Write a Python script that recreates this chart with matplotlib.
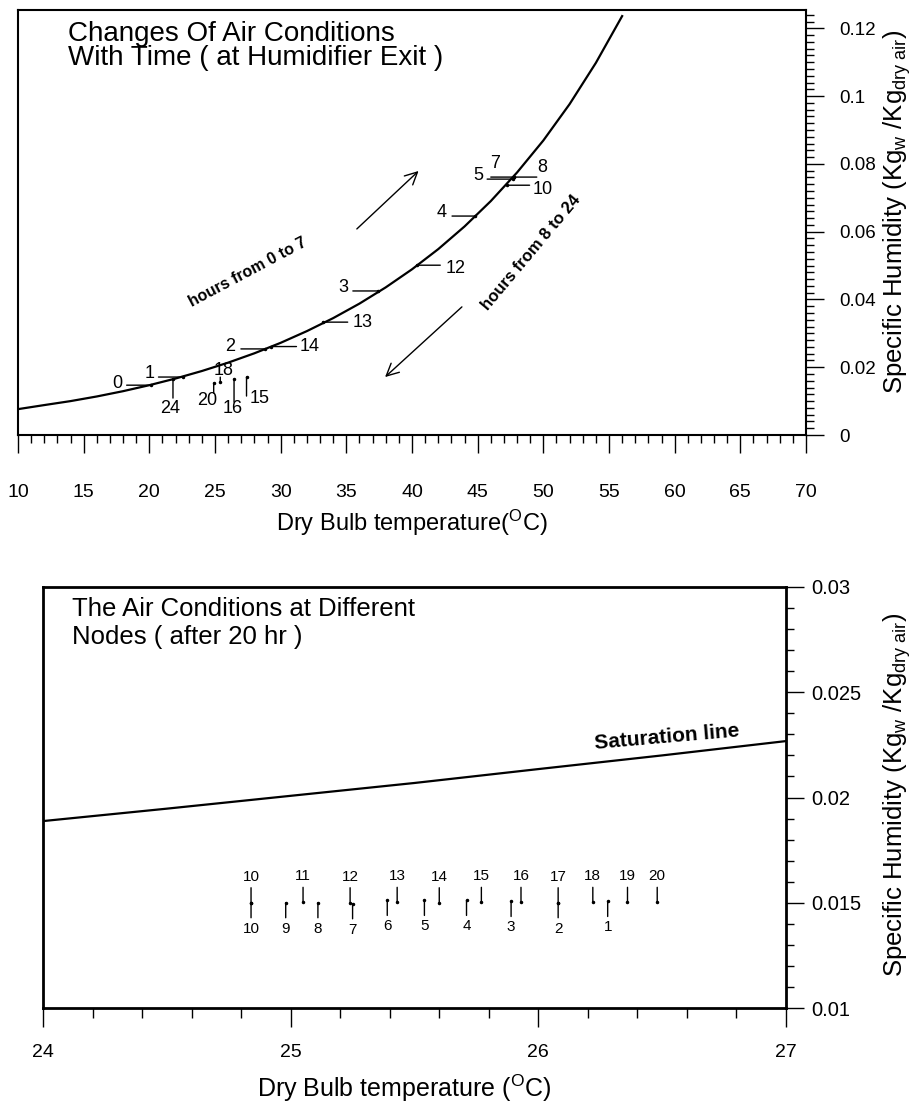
import matplotlib
matplotlib.use('Agg')
import matplotlib.pyplot as plt
from matplotlib.ticker import MultipleLocator, FormatStrFormatter

plt.rcParams['font.family'] = ['Liberation Sans', 'DejaVu Sans']
plt.rcParams['mathtext.fontset'] = 'custom'
plt.rcParams['mathtext.rm'] = 'Liberation Sans'
plt.rcParams['mathtext.it'] = 'Liberation Sans:italic'

# upper chart: saturation curve
sat_temp = [10, 12, 14, 16, 18, 20, 22, 24, 26, 28, 30, 32, 34, 36, 38, 40,
            42, 44, 46, 48, 50, 52, 54, 56]
sat_hum = [0.00763, 0.00883, 0.01000, 0.01137, 0.01293, 0.01470, 0.01667,
           0.01888, 0.02135, 0.02411, 0.02720, 0.03066, 0.03449, 0.03877,
           0.04356, 0.04889, 0.05485, 0.06153, 0.06902, 0.07746, 0.08690,
           0.09763, 0.10980, 0.12360]

# air state at humidifier exit for each hour
hour_labels = ['0', '1', '2', '3', '4', '5', '7', '8', '10', '12', '13',
               '14', '15', '16', '18', '20', '24']
hour_temp = [20.1, 22.6, 28.8, 37.4, 44.8, 47.7, 47.75, 47.75, 47.2, 40.4,
             33.2, 29.3, 27.4, 26.45, 25.4, 24.9, 21.8]
hour_hum = [0.0147, 0.0171, 0.0254, 0.0425, 0.0646, 0.0755, 0.0761, 0.0761,
            0.0737, 0.0501, 0.0333, 0.0261, 0.0171, 0.0165, 0.0156, 0.0153,
            0.0165]

# lower chart: saturation line and node states after 20 hr
sat2_temp = [24, 24.5, 25, 25.5, 26, 26.5, 27]
sat2_hum = [0.01888, 0.01947, 0.02008, 0.02069, 0.02135, 0.02200, 0.02268]

upper_nodes = ['10', '11', '12', '13', '14', '15', '16', '17', '18', '19', '20']
upper_temp = [24.84, 25.05, 25.24, 25.43, 25.60, 25.77, 25.93, 26.08, 26.22,
              26.36, 26.48]
upper_hum = [0.0150, 0.01502, 0.0150, 0.01502, 0.0150, 0.01502, 0.01502,
             0.0150, 0.01502, 0.01502, 0.01502]

lower_nodes = ['10', '9', '8', '7', '6', '5', '4', '3', '2', '1']
lower_temp = [24.84, 24.98, 25.11, 25.25, 25.39, 25.54, 25.71, 25.89, 26.08,
              26.28]
lower_hum = [0.0150, 0.0150, 0.0150, 0.01495, 0.01511, 0.01511, 0.01511,
             0.01506, 0.0150, 0.01506]

# label placement for the hour marks: (line dx, line dy, text dx, text dy) in pixels
hour_offsets = {
    '0': (-24, 0, -33, 2), '1': (-25, 0, -34, 4), '2': (-24, 0, -35, 2),
    '3': (-25, 0, -35, 3), '4': (-23, 0, -33, 4), '5': (-26, 0, -35, 4),
    '7': (-23, 0, -19, 14), '8': (23, 0, 28, 10), '10': (23, 0, 36, -4),
    '12': (23, 0, 38, -3), '13': (25, 0, 40, 0), '14': (25, 0, 38, 0),
    '15': (0, -19, 13, -21), '16': (0, -23, -1, -29), '18': (0, 5, 3, 12),
    '20': (0, -10, -6, -17), '24': (0, -19, -3, -29),
}

fig = plt.figure(figsize=(9.18, 11.11), dpi=100)
ax1 = fig.add_axes([18 / 918, 1 - 435 / 1111, 788 / 918, 425 / 1111])
ax2 = fig.add_axes([43 / 918, 1 - 1008 / 1111, 743 / 918, 421 / 1111])

# ---------- upper chart ----------
ax1.plot(sat_temp, sat_hum, color='black', lw=1.6)
ax1.plot(hour_temp, hour_hum, ls='none', marker='.', ms=3, color='black')
for lab, t, h in zip(hour_labels, hour_temp, hour_hum):
    lx, ly, tx, ty = hour_offsets[lab]
    ax1.annotate('', xy=(t, h), xytext=(lx, ly), textcoords='offset pixels',
                 arrowprops=dict(arrowstyle='-', lw=1, color='black',
                                 shrinkA=0, shrinkB=0))
    ax1.annotate(lab, xy=(t, h), xytext=(tx, ty), textcoords='offset pixels',
                 ha='center', va='center', fontsize=13)

ax1.annotate('', xy=(40.5, 0.0779), xytext=(35.8, 0.0608),
             arrowprops=dict(arrowstyle='->', lw=1, color='black',
                             mutation_scale=22, shrinkA=0, shrinkB=0))
ax1.annotate('', xy=(37.95, 0.0171), xytext=(43.8, 0.0378),
             arrowprops=dict(arrowstyle='->', lw=1, color='black',
                             mutation_scale=22, shrinkA=0, shrinkB=0))
ax1.text(27.5, 0.0481, 'hours from 0 to 7', rotation=28, fontsize=11.5,
         fontweight='bold', ha='center', va='center', rotation_mode='anchor')
ax1.text(49.07, 0.0537, 'hours from 8 to 24', rotation=50, fontsize=12,
         fontweight='bold', ha='center', va='center', rotation_mode='anchor')
ax1.text(0.0635, 0.975, 'Changes Of Air Conditions\nWith Time ( at Humidifier Exit )',
         transform=ax1.transAxes, fontsize=20, va='top', ha='left',
         linespacing=0.9)

ax1.set_xlim(10, 70)
ax1.set_ylim(0, 0.1254)
ax1.xaxis.set_major_locator(MultipleLocator(5))
ax1.xaxis.set_minor_locator(MultipleLocator(1))
ax1.yaxis.set_major_locator(MultipleLocator(0.02))
ax1.yaxis.set_minor_locator(MultipleLocator(0.002))
ax1.yaxis.set_major_formatter(FormatStrFormatter('%g'))
ax1.yaxis.tick_right()
ax1.tick_params(axis='x', which='major', direction='out', length=13, width=1,
                pad=22, labelsize=14)
ax1.tick_params(axis='x', which='minor', direction='out', length=6, width=1)
ax1.tick_params(axis='y', which='major', direction='out', length=13, width=1,
                pad=11, labelsize=13.5)
ax1.tick_params(axis='y', which='minor', direction='out', length=6, width=1)
for s in ax1.spines.values():
    s.set_linewidth(1.5)

fig.text(412 / 918, 1 - 523 / 1111, r'Dry Bulb temperature($^{\rm O}$C)',
         ha='center', va='center', fontsize=17)
fig.text(897 / 918, 1 - 212 / 1111,
         r'Specific Humidity (Kg$_{\rm w}$ /Kg$_{\rm dry\ air}$)',
         rotation=90, ha='center', va='center', fontsize=18.5)

# ---------- lower chart ----------
ax2.plot(sat2_temp, sat2_hum, color='black', lw=1.6)
ax2.text(26.52, 0.02285, 'Saturation line', rotation=5, fontsize=15,
         fontweight='bold', ha='center', va='center', rotation_mode='anchor')

ax2.plot(upper_temp, upper_hum, ls='none', marker='.', ms=3, color='black')
ax2.plot(lower_temp, lower_hum, ls='none', marker='.', ms=3, color='black')
for lab, t, h in zip(upper_nodes, upper_temp, upper_hum):
    ax2.annotate('', xy=(t, h), xytext=(0, 15), textcoords='offset pixels',
                 arrowprops=dict(arrowstyle='-', lw=1, color='black',
                                 shrinkA=0, shrinkB=0))
    ax2.annotate(lab, xy=(t, h), xytext=(0, 26), textcoords='offset pixels',
                 ha='center', va='center', fontsize=11)
for lab, t, h in zip(lower_nodes, lower_temp, lower_hum):
    ax2.annotate('', xy=(t, h), xytext=(0, -15), textcoords='offset pixels',
                 arrowprops=dict(arrowstyle='-', lw=1, color='black',
                                 shrinkA=0, shrinkB=0))
    ax2.annotate(lab, xy=(t, h), xytext=(0, -26), textcoords='offset pixels',
                 ha='center', va='center', fontsize=11)

ax2.text(0.039, 0.976, 'The Air Conditions at Different\nNodes ( after 20 hr )',
         transform=ax2.transAxes, fontsize=18.5, va='top', ha='left',
         linespacing=1.2)

ax2.set_xlim(24, 27)
ax2.set_ylim(0.01, 0.03)
ax2.xaxis.set_major_locator(MultipleLocator(1))
ax2.xaxis.set_minor_locator(MultipleLocator(0.2))
ax2.yaxis.set_major_locator(MultipleLocator(0.005))
ax2.yaxis.set_minor_locator(MultipleLocator(0.001))
ax2.yaxis.set_major_formatter(FormatStrFormatter('%g'))
ax2.yaxis.tick_right()
ax2.tick_params(axis='x', which='major', direction='out', length=14, width=1,
                pad=12, labelsize=14)
ax2.tick_params(axis='x', which='minor', direction='out', length=7, width=1)
ax2.tick_params(axis='y', which='major', direction='out', length=13, width=1,
                pad=5, labelsize=14.5)
ax2.tick_params(axis='y', which='minor', direction='out', length=6, width=1)
for s in ax2.spines.values():
    s.set_linewidth(2)

fig.text(404 / 918, 1 - 1088 / 1111, r'Dry Bulb temperature ($^{\rm O}$C)',
         ha='center', va='center', fontsize=18)
fig.text(897 / 918, 1 - 795 / 1111,
         r'Specific Humidity (Kg$_{\rm w}$ /Kg$_{\rm dry\ air}$)',
         rotation=90, ha='center', va='center', fontsize=18.5)

fig.savefig('out.png', dpi=100)
